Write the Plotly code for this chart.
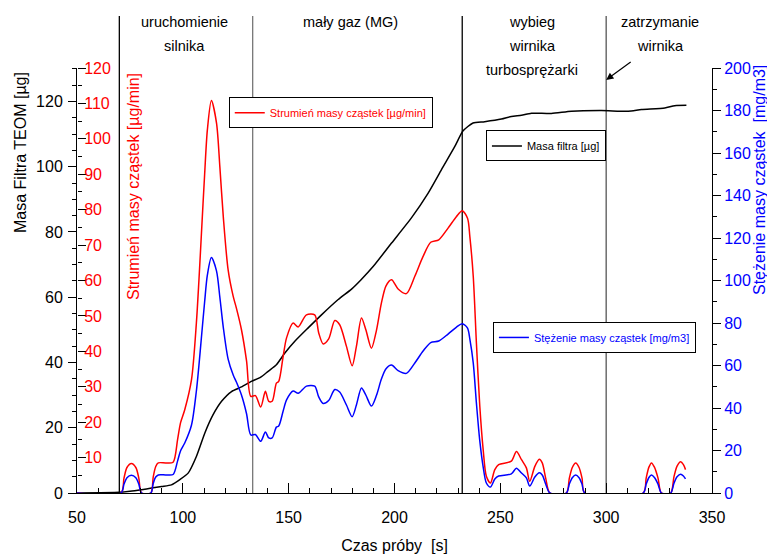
import plotly.graph_objects as go

# ---------------- data ----------------
time_flow = [50, 70.8, 72.2, 73.6, 75.7, 77.8, 79.2, 80.5, 84.9, 86.0, 87.2, 88.4, 92.0, 95.4,
             97.5, 98.9, 100.9, 104.1, 106.4, 107.6, 108.8, 110.3, 111.6, 113.5, 115.9, 117.5,
             119.1, 121.4, 123.8, 125.3, 127.7, 130.1, 132.1, 134.3, 136.8, 139.0, 140.6, 142.2,
             144.2, 145.3, 147.4, 149.0, 152.1, 154.5, 158.4, 162.3, 164.2, 166.3, 168.9, 171.8,
             174.1, 177.3, 180.0, 182.0, 184.4, 186.5, 189.1, 191.5, 193.8, 196.0, 198.6, 201.7,
             205.6, 209.6, 213.5, 217.1, 220.9, 225.3, 229.3, 232.0, 234.5, 235.6, 237.2, 238.7,
             240.3, 241.9, 243.4, 245.3, 247.4, 249.2, 255.2, 257.6, 260.0, 262.3, 263.9, 266.3,
             268.4, 269.8, 271.5, 273.4, 281.2, 282.6, 284.0, 285.6, 287.2, 288.6, 289.9, 317.5,
             318.9, 320.2, 321.4, 322.8, 324.5, 326.1, 330.5, 332.0, 333.5, 335.2, 336.5, 337.5]

# Strumien masy czastek [ug/min]
flow = [0, 0, 4.2, 7.2, 8.3, 7.2, 4.2, 0, 0, 4.5, 7.5, 8.5, 8.5, 8.7,
        15.0, 19.8, 23.5, 32.0, 48.0, 60.0, 73.4, 90.0, 102.6, 110.8, 104.5, 92.0,
        78.1, 63.0, 55.5, 52.2, 46.1, 37.3, 27.3, 27.5, 24.3, 28.7, 25.9, 25.9,
        31.0, 31.5, 38.6, 43.8, 48.0, 46.9, 50.3, 50.3, 45.2, 42.1, 43.5, 48.7,
        47.5, 41.4, 35.9, 41.4, 49.4, 46.0, 40.9, 46.0, 53.6, 58.5, 60.2, 57.6,
        56.3, 61.2, 66.8, 70.8, 71.5, 74.8, 78.1, 79.7, 77.6, 72.4, 61.2, 42.3,
        24.5, 12.2, 4.7, 2.8, 6.6, 8.0, 9.0, 11.7, 9.4, 7.1, 3.3, 7.5,
        9.5, 8.5, 4.0, 0, 0, 4.2, 7.2, 8.5, 7.2, 4.2, 0, 0,
        4.2, 7.3, 8.5, 7.3, 4.2, 0, 0, 4.5, 7.6, 8.8, 8.0, 6.6]

# Stezenie masy czastek [mg/m3]
conc = [0, 0, 4.2, 7.2, 8.3, 7.2, 4.2, 0, 0, 4.5, 7.5, 8.5, 8.5, 8.7,
        15.0, 19.8, 23.5, 32.0, 48.0, 60.0, 73.4, 90.0, 102.6, 110.8, 104.5, 92.0,
        78.1, 63.0, 55.5, 52.2, 46.1, 37.3, 27.3, 27.5, 24.3, 28.7, 25.9, 25.9,
        31.0, 31.5, 38.6, 43.8, 48.0, 46.9, 50.3, 50.3, 45.2, 42.1, 43.5, 48.7,
        47.5, 41.4, 35.9, 41.4, 49.4, 46.0, 40.9, 46.0, 53.6, 58.5, 60.2, 57.6,
        56.3, 61.2, 66.8, 70.8, 71.5, 74.8, 78.1, 79.7, 77.6, 72.4, 61.2, 42.3,
        24.5, 12.2, 4.7, 2.8, 6.6, 8.0, 9.0, 11.7, 9.4, 7.1, 3.3, 7.5,
        9.5, 8.5, 4.0, 0, 0, 4.2, 7.2, 8.5, 7.2, 4.2, 0, 0,
        4.2, 7.3, 8.5, 7.3, 4.2, 0, 0, 4.5, 7.6, 8.8, 8.0, 6.6]

time_mass = [50, 70, 75, 80.5, 85.2, 90, 94.6, 98.6, 102.5, 106.4, 110.4, 114.3, 118.3, 123.0,
             127.7, 132.4, 136.8, 140.3, 144.2, 148.2, 152.9, 159.2, 165.5, 173.4, 179.7, 184.1,
             189.9, 198.6, 208.0, 215.9, 222.2, 228.5, 232.4, 237.1, 242.6, 250.5, 255.2, 260.0,
             264.7, 274.1, 283.6, 297.8, 310.4, 316.7, 327.7, 332.4, 337.9]

# Masa filtra [ug]
mass = [0, 0.2, 0.5, 1.0, 1.5, 2.0, 2.5, 4.1, 6.1, 11.2, 18.4, 24.0, 28.1, 31.1,
        32.5, 34.2, 35.5, 37.3, 39.3, 42.9, 46.5, 50.6, 54.6, 59.3, 62.5, 65.3,
        69.4, 76.6, 84.3, 91.9, 99.1, 106.2, 111.0, 113.4, 113.8, 114.6, 115.4, 115.8,
        116.4, 116.3, 117.0, 117.2, 117.0, 117.5, 118.0, 118.7, 118.8]

phase_bounds = [70, 133, 232, 300]
phase_colors = ["#000000", "#777777", "#000000", "#555555"]
red_ticks = [10, 20, 30, 40, 50, 60, 70, 80, 90, 100, 110, 120]

FONT = "Liberation Sans, Arial, sans-serif"

fig = go.Figure()
fig.add_trace(go.Scatter(x=time_mass, y=mass, mode="lines", yaxis="y",
                         line=dict(color="black", width=1.5, shape="spline", smoothing=0.6),
                         name="Masa filtra [µg]", legend="legend2"))
fig.add_trace(go.Scatter(x=time_flow, y=conc, mode="lines", yaxis="y3",
                         line=dict(color="#0000ff", width=1.5, shape="spline", smoothing=0.8),
                         name="Stężenie masy cząstek [mg/m3]", legend="legend3"))
fig.add_trace(go.Scatter(x=time_flow, y=flow, mode="lines", yaxis="y2",
                         line=dict(color="#ff0000", width=1.5, shape="spline", smoothing=0.8),
                         name="Strumień masy cząstek [µg/min]", legend="legend"))

for xb, col in zip(phase_bounds, phase_colors):
    fig.add_shape(type="line", xref="x", yref="paper", x0=xb, x1=xb, y0=0, y1=1.1224,
                  line=dict(color=col, width=1.3), layer="below")

fig.update_layout(
    width=767, height=547,
    margin=dict(l=69, r=63, t=60, b=62, autoexpand=False),
    paper_bgcolor="white", plot_bgcolor="white",
    showlegend=True,
    font=dict(family=FONT, size=16, color="black"),
    xaxis=dict(range=[50, 350], showline=True, linecolor="black", linewidth=1,
               ticks="inside", ticklen=10, tickcolor="black", tick0=50, dtick=50,
               minor=dict(ticks="inside", ticklen=5, dtick=10, tick0=50, tickcolor="black"),
               showgrid=False, zeroline=False, tickfont=dict(size=16),
               ticklabelstandoff=10, automargin=False,
               title=dict(text="Czas próby\u00a0 [s]", font=dict(size=16), standoff=14)),
    yaxis=dict(range=[0, 130.25], side="left", showline=True, linecolor="black", linewidth=1,
               ticks="outside", ticklen=8, tickcolor="black", dtick=20, automargin=False,
               minor=dict(ticks="outside", ticklen=4, dtick=5, tickcolor="black"),
               ticklabelstandoff=2,
               showgrid=False, zeroline=False, tickfont=dict(size=16, color="black")),
    yaxis2=dict(range=[0, 120], overlaying="y", side="right", anchor="free", position=0,
                showline=False, ticks="outside", ticklen=8, tickcolor="black",
                tickmode="array", tickvals=red_ticks, automargin=False,
                minor=dict(tickmode="linear", tick0=0, dtick=5, ticks="outside", ticklen=4,
                           tickcolor="black"),
                ticklabelstandoff=-5,
                showgrid=False, zeroline=False,
                tickfont=dict(size=16, color="#ff0000")),
    yaxis3=dict(range=[0, 200], overlaying="y", side="right", anchor="x",
                showline=True, linecolor="black", linewidth=1, automargin=False,
                ticks="outside", ticklen=8, tickcolor="black", dtick=20,
                minor=dict(ticks="outside", ticklen=4, dtick=10, tickcolor="black"),
                showgrid=False, zeroline=False, tickfont=dict(size=16, color="#0000ff")),
    legend=dict(x=0.239, y=0.895, xanchor="left", yanchor="middle", bgcolor="white",
                bordercolor="black", borderwidth=1, font=dict(size=11, color="#ff0000"),
                itemwidth=30),
    legend2=dict(x=0.644, y=0.8165, xanchor="left", yanchor="middle", bgcolor="white",
                 bordercolor="black", borderwidth=1, font=dict(size=11, color="black"),
                 itemwidth=30),
    legend3=dict(x=0.655, y=0.366, xanchor="left", yanchor="middle", bgcolor="white",
                 bordercolor="black", borderwidth=1, font=dict(size=11, color="#0000ff"),
                 itemwidth=30),
)

# axis titles
fig.add_annotation(text="Masa Filtra TEOM [µg]", xref="paper", yref="paper",
                   x=(20 - 77) / 635, y=(493 - 153) / 425, xanchor="center", yanchor="middle",
                   textangle=-90, showarrow=False, font=dict(size=16, color="black"))
fig.add_annotation(text="Strumień masy cząstek [µg/min]", xref="paper", yref="paper",
                   x=(133 - 77) / 635, y=(493 - 187) / 425, xanchor="center", yanchor="middle",
                   textangle=-90, showarrow=False, font=dict(size=16, color="#ff0000"))
fig.add_annotation(text="Stężenie masy cząstek\u00a0 [mg/m3]", xref="paper", yref="paper",
                   x=(759 - 77) / 635, y=(493 - 180) / 425, xanchor="center", yanchor="middle",
                   textangle=-90, showarrow=False, font=dict(size=16, color="#0000ff"))

# phase labels
phase_lines = [
    (101, ["uruchomienie", "silnika"]),
    (179, ["mały gaz (MG)"]),
    (265, ["wybieg", "wirnika", "turbosprężarki"]),
    (325.5, ["zatrzymanie", "wirnika"]),
]
line_y = [1.108, 1.052, 0.995]
for xc, lines in phase_lines:
    for i, txt in enumerate(lines):
        fig.add_annotation(text=txt, xref="x", yref="paper", x=xc, y=line_y[i],
                           showarrow=False, font=dict(size=14.5, color="black"),
                           xanchor="center", yanchor="middle")

fig.add_annotation(text="", xref="x", yref="paper", x=300, y=0.972, ax=26, ay=-19,
                   showarrow=True, arrowhead=2, arrowsize=1.2, arrowwidth=1.2, arrowcolor="black")

fig.write_html("out.html")
